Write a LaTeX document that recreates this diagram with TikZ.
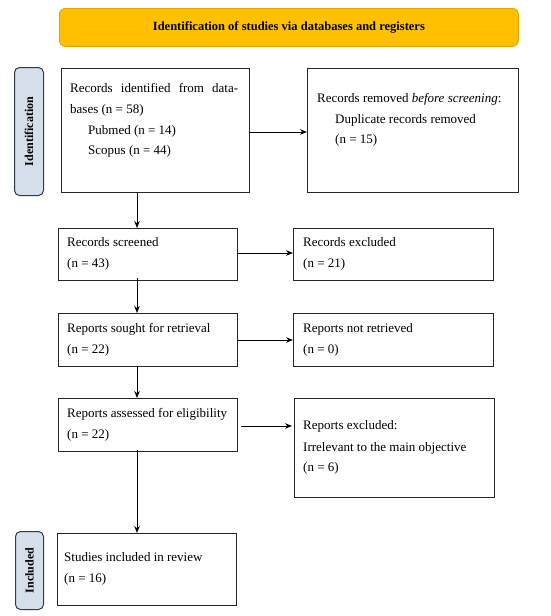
\documentclass[tikz,border=0pt]{standalone}
\usepackage{fontspec}
\setmainfont{Liberation Serif}
\usetikzlibrary{arrows.meta}
\definecolor{hdrfill}{HTML}{FFC000}
\definecolor{hdrline}{HTML}{E3A300}
\definecolor{sidefill}{HTML}{D5DFEA}
\definecolor{sideline}{HTML}{2F3A45}
\tikzset{
  box/.style={draw=black!85, line width=0.9pt, rectangle, inner sep=0pt, anchor=north west},
  hdr/.style={draw=hdrline, fill=hdrfill, line width=0.8pt, rounded corners=6pt, inner sep=0pt, anchor=north west},
  side/.style={draw=sideline, fill=sidefill, line width=1pt, rounded corners=5pt, inner sep=0pt, anchor=north west},
  sidetxt/.style={rotate=90, font=\fontsize{12}{14}\selectfont\bfseries, inner sep=0pt},
  txt/.style={anchor=base west, inner sep=0pt, font=\fontsize{13}{15}\selectfont},
  arr/.style={draw=black, line width=0.9pt, -{Stealth[length=7pt,width=5.5pt]}}
}
\begin{document}
\begin{tikzpicture}[x=1pt,y=-1pt]
\useasboundingbox (0,0) rectangle (550,616);
% header
\node[hdr, minimum width=459pt, minimum height=38pt] (hd) at (59,8) {};
\node[font=\fontsize{12.5}{14}\selectfont\bfseries, inner sep=0pt] (hdt) at (hd.center) {Identification of studies via databases and registers};
% side labels
\node[side, minimum width=29pt, minimum height=128pt] (sid) at (14,67) {};
\node[sidetxt] (sidt) at (sid.center) {Identification};
\node[side, minimum width=28pt, minimum height=78pt] (sinc) at (15,531) {};
\node[sidetxt] (sinct) at (sinc.center) {Included};
% boxes
\node[box, minimum width=188pt, minimum height=124pt] (b1) at (61,68) {};
\node[box, minimum width=211pt, minimum height=124pt] (rem) at (307,68) {};
\node[box, minimum width=179pt, minimum height=52pt] (scr) at (58,228) {};
\node[box, minimum width=200pt, minimum height=52pt] (exc) at (293,228) {};
\node[box, minimum width=179pt, minimum height=53pt] (sou) at (58,313) {};
\node[box, minimum width=200pt, minimum height=53pt] (nrt) at (293,313) {};
\node[box, minimum width=179pt, minimum height=53pt] (ass) at (58,398) {};
\node[box, minimum width=200pt, minimum height=99pt] (rex) at (294,398) {};
\node[box, minimum width=179pt, minimum height=72pt] (inc) at (57,533) {};
% texts
\node[txt] (t1a) at (70,92) {\hbox to 168pt{Records\hfill identified\hfill from\hfill data-}};
\node[txt] (t1b) at (70,113) {bases (n = 58)};
\node[txt] (t1c) at (88,134) {Pubmed (n = 14)};
\node[txt] (t1d) at (88,154) {Scopus (n = 44)};
\node[txt] (t2a) at (317,102) {Records removed \textit{before screening}:};
\node[txt] (t2b) at (335,123) {Duplicate records removed};
\node[txt] (t2c) at (335,143) {(n = 15)};
\node[txt] (t3a) at (67,246) {Records screened};
\node[txt] (t3b) at (67,267) {(n = 43)};
\node[txt] (t4a) at (303,246) {Records excluded};
\node[txt] (t4b) at (303,267) {(n = 21)};
\node[txt] (t5a) at (67,332) {Reports sought for retrieval};
\node[txt] (t5b) at (67,353) {(n = 22)};
\node[txt] (t6a) at (303,332) {Reports not retrieved};
\node[txt] (t6b) at (303,353) {(n = 0)};
\node[txt] (t7a) at (67,417) {Reports assessed for eligibility};
\node[txt] (t7b) at (67,438) {(n = 22)};
\node[txt] (t8a) at (303,429) {Reports excluded:};
\node[txt] (t8b) at (303,451) {Irrelevant to the main objective};
\node[txt] (t8c) at (303,471) {(n = 6)};
\node[txt] (t9a) at (64,561) {Studies included in review};
\node[txt] (t9b) at (64,582) {(n = 16)};
% connectors
\coordinate (ax) at (137,0);
\draw[arr] (b1.south -| ax) -- (scr.north -| ax);
\draw[arr] ([yshift=3pt]scr.south -| ax) -- (sou.north -| ax);
\draw[arr] (sou.south -| ax) -- (ass.north -| ax);
\draw[arr] ([yshift=2pt]ass.south -| ax) -- (inc.north -| ax);
\coordinate (y1) at (0,132);
\draw[arr] (b1.east |- y1) -- (rem.west |- y1);
\coordinate (y2) at (0,253);
\draw[arr] (scr.east |- y2) -- (exc.west |- y2);
\coordinate (y3) at (0,340);
\draw[arr] (sou.east |- y3) -- (nrt.west |- y3);
\coordinate (y4) at (0,426);
\draw[arr] ([xshift=3pt]ass.east |- y4) -- ([xshift=-2pt]rex.west |- y4);
\end{tikzpicture}
\end{document}
